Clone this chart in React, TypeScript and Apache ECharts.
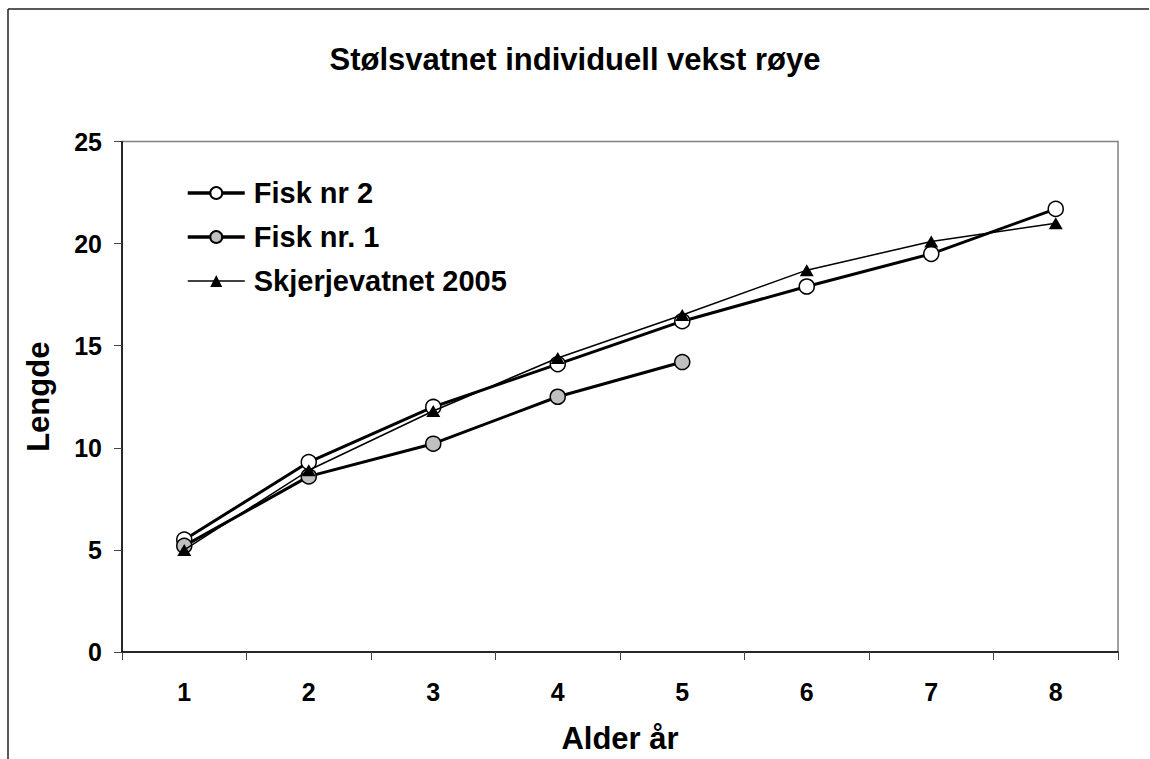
import React, { useEffect, useRef } from "react";
import * as echarts from "echarts";

const categories = ["1", "2", "3", "4", "5", "6", "7", "8"];
const fiskNr2 = [5.5, 9.3, 12.0, 14.1, 16.2, 17.9, 19.5, 21.7];
const fiskNr1 = [5.2, 8.6, 10.2, 12.5, 14.2, null, null, null];
const skjerjevatnet2005 = [5.0, 8.9, 11.8, 14.4, 16.5, 18.7, 20.1, 21.0];
const seriesNames = ["Fisk nr 2", "Fisk nr. 1", "Skjerjevatnet 2005"];
const yMin = 0;
const yMax = 25;
const yInterval = 5;

const FONT = '"Liberation Sans", Arial, sans-serif';

export default function App() {
  const ref = useRef<HTMLDivElement>(null);
  useEffect(() => {
    if (!ref.current) return;
    const chart = echarts.init(ref.current, undefined, { renderer: "svg" });
    chart.setOption({
      animation: false,
      backgroundColor: "#ffffff",
      title: {
        text: "Stølsvatnet individuell vekst røye",
        left: "center",
        top: 36,
        textStyle: { fontFamily: FONT, fontWeight: "bold", fontSize: 31, color: "#000", lineHeight: 36 },
      },
      graphic: [
        { type: "line", shape: { x1: 8, y1: 9, x2: 1149, y2: 9 }, style: { stroke: "#222", lineWidth: 1.5 } },
        { type: "line", shape: { x1: 8, y1: 9, x2: 8, y2: 759 }, style: { stroke: "#222", lineWidth: 1.5 } },
      ],
      legend: {
        orient: "vertical",
        left: 186,
        top: 178,
        padding: 0,
        itemWidth: 57,
        itemHeight: 15,
        itemGap: 14,
        data: [
          { name: seriesNames[0], lineStyle: { width: 3.5, color: "#000" } },
          { name: seriesNames[1], lineStyle: { width: 3.5, color: "#000" } },
          { name: seriesNames[2], lineStyle: { width: 1.5, color: "#000" } },
        ],
        textStyle: {
          fontFamily: FONT,
          fontWeight: "bold",
          fontSize: 29,
          color: "#000",
          lineHeight: 30,
          padding: [0, 0, 0, 4],
        },
      },
      grid: {
        left: 122,
        top: 141.5,
        right: 32,
        bottom: 107,
        show: true,
        borderColor: "#808080",
        borderWidth: 1.5,
        backgroundColor: "transparent",
      },
      xAxis: {
        type: "category",
        data: categories,
        boundaryGap: true,
        name: "Alder år",
        nameLocation: "middle",
        nameGap: 71,
        nameTextStyle: { fontFamily: FONT, fontWeight: "bold", fontSize: 31, color: "#000" },
        axisLine: { lineStyle: { color: "#000", width: 1.5 } },
        axisTick: { show: true, length: 8, inside: false, alignWithLabel: false, lineStyle: { color: "#444", width: 1 } },
        axisLabel: { margin: 27, fontFamily: FONT, fontWeight: "bold", fontSize: 25, color: "#000" },
        splitLine: { show: false },
      },
      yAxis: {
        type: "value",
        min: yMin,
        max: yMax,
        interval: yInterval,
        name: "Lengde",
        nameLocation: "middle",
        nameGap: 68,
        nameTextStyle: { fontFamily: FONT, fontWeight: "bold", fontSize: 31, color: "#000" },
        axisLine: { show: true, lineStyle: { color: "#000", width: 1.5 } },
        axisTick: { show: true, length: 8, lineStyle: { color: "#444", width: 1 } },
        axisLabel: { margin: 20, fontFamily: FONT, fontWeight: "bold", fontSize: 25, color: "#000" },
        splitLine: { show: false },
      },
      series: [
        {
          name: seriesNames[0],
          type: "line",
          data: fiskNr2,
          symbol: "circle",
          symbolSize: 15,
          lineStyle: { color: "#000", width: 3 },
          itemStyle: { color: "#ffffff", borderColor: "#000", borderWidth: 1.5 },
          z: 2,
        },
        {
          name: seriesNames[1],
          type: "line",
          data: fiskNr1,
          symbol: "circle",
          symbolSize: 15,
          connectNulls: false,
          lineStyle: { color: "#000", width: 3 },
          itemStyle: { color: "#c0c0c0", borderColor: "#000", borderWidth: 1.5 },
          z: 3,
        },
        {
          name: seriesNames[2],
          type: "line",
          data: skjerjevatnet2005,
          symbol: "triangle",
          symbolSize: [14, 12],
          lineStyle: { color: "#000", width: 1.5 },
          itemStyle: { color: "#000", borderColor: "#000", borderWidth: 0 },
          z: 4,
        },
      ],
    });
    return () => chart.dispose();
  }, []);
  return <div ref={ref} style={{ position: "absolute", left: 0, top: 0, width: 1150, height: 759 }} />;
}
